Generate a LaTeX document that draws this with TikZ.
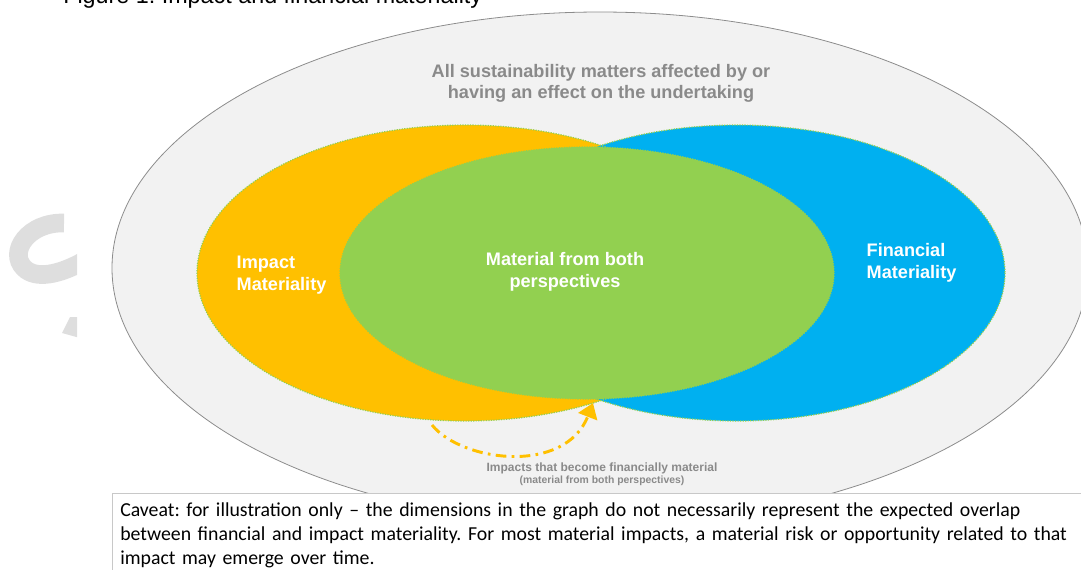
\documentclass[tikz,border=0pt]{standalone}
\usepackage{fontspec}
\setmainfont{Liberation Sans}
\newfontfamily\caveatfont{Carlito}
\usetikzlibrary{positioning, arrows.meta}
\frenchspacing

\definecolor{greyfill}{HTML}{F2F2F2}
\definecolor{greyline}{HTML}{8C8C8C}
\definecolor{greytext}{HTML}{8A8A8A}
\definecolor{impact}{HTML}{FFC000}
\definecolor{financial}{HTML}{00B0F0}
\definecolor{both}{HTML}{92D050}
\definecolor{boxline}{HTML}{C8C8C8}
\definecolor{watermark}{HTML}{DEDEDE}

\begin{document}
\begin{tikzpicture}[x=0.75pt, y=-0.75pt,
    areatext/.style={text=white, font=\fontsize{13.6}{16.5}\selectfont\bfseries, align=left},
    dotrim/.style={draw=both, densely dotted, line width=0.9pt}]
    \useasboundingbox (0,0) rectangle (1081,569);

    % Title, cut off by the top edge
    \node[anchor=base west, inner sep=0pt, font=\fontsize{17.5}{20}\selectfont] (title) at (63,3) {Figure 1: Impact and financial materiality};

    % Watermark
    \begin{scope}
      \clip (0,200) rectangle (77,345);
      \draw[watermark, line width=14pt] (64,223) .. controls (28,222) and (8,252) .. (24,268) .. controls (36,280) and (60,274) .. (82,262);
      \fill[watermark] (62,333) -- (70,317) -- (80,317) -- (80,338) -- cycle;
    \end{scope}

    % Outer ellipse
    \coordinate (all) at (600,268);
    \draw[fill=greyfill, draw=greyline, line width=0.6pt] (all) ellipse [x radius=488, y radius=256];

    % Impact, financial and overlap ellipses
    \coordinate (imp) at (465,273);
    \coordinate (fin) at (737,273);
    \coordinate (mid) at (587,273);
    \fill[impact] (imp) ellipse [x radius=268, y radius=148];
    \fill[financial] (fin) ellipse [x radius=268, y radius=148];
    \draw[dotrim] (imp) ellipse [x radius=268, y radius=148];
    \draw[dotrim] (fin) ellipse [x radius=268, y radius=148];
    \draw[dotrim, fill=both] (mid) ellipse [x radius=247, y radius=126];

    % Labels
    \node[text=greytext, font=\fontsize{13.6}{15.75}\selectfont\bfseries, align=center] (alllabel) at (601,83) {All sustainability matters affected by or\\having an effect on the undertaking};
    \node[areatext, anchor=west] (implabel) at (232,275) {Impact\\Materiality};
    \node[areatext, align=center] (bothlabel) at (565,272) {Material from both\\perspectives};
    \node[areatext, anchor=west] (finlabel) at (862,263) {Financial\\Materiality};

    % Arrow from impact to both
    \coordinate (turn) at (432,425);
    \coordinate (cusp) at (593,403);
    \draw[impact, line width=2.2pt, dash pattern=on 8pt off 4pt on 2pt off 4pt, -{Triangle[width=15pt, length=11pt]}] (turn) .. controls (462,462) and (565,475) .. (cusp);
    \node[text=greytext, inner sep=0pt, font=\fontsize{9}{10}\selectfont\bfseries] (shiftlabel) at (602,468) {Impacts that become financially material};
    \node[text=greytext, inner sep=0pt, font=\fontsize{7.8}{9}\selectfont\bfseries, below=1.5pt of shiftlabel] (shiftnote) {(material from both perspectives)};

    % Caveat box
    \node[draw=boxline, fill=white, anchor=north west, inner xsep=6pt, inner ysep=7pt, text width=760pt, align=left, font=\caveatfont\fontsize{14.85}{18}\selectfont] (caveat) at (112,493) {Caveat: for illustration only – the dimensions in the graph do not necessarily represent the expected overlap\\between financial and impact materiality. For most material impacts, a material risk or opportunity related to that\\impact may emerge over time.};
\end{tikzpicture}
\end{document}
